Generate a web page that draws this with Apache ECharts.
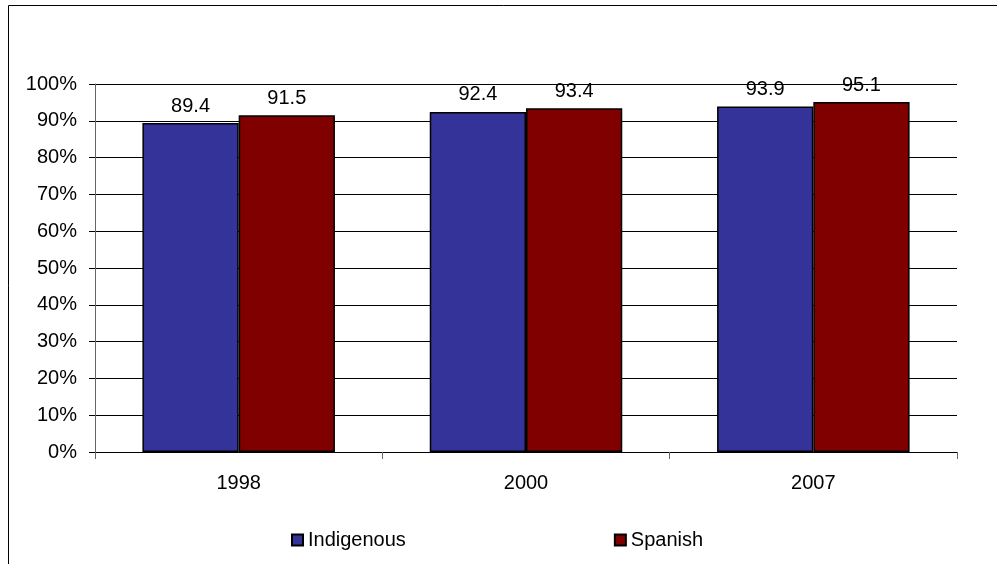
<!DOCTYPE html>
<html>
<head>
<meta charset="utf-8">
<script src="https://cdn.jsdelivr.net/npm/echarts@6/dist/echarts.min.js"></script>
<style>
  html, body { margin: 0; padding: 0; background: #fff; }
  #chart { width: 997px; height: 564px; }
</style>
</head>
<body>
<div id="chart"></div>
<script>
var years = ["1998", "2000", "2007"];
var indigenous = [89.4, 92.4, 93.9];
var spanish = [91.5, 93.4, 95.1];

var myChart = echarts.init(document.getElementById("chart"));
var font = "Liberation Sans, Arial, sans-serif";

var option = {
    animation: false,
    backgroundColor: "#fff",
    textStyle: { fontFamily: font },
    graphic: [{
        type: "rect",
        shape: { x: 8.5, y: 5.5, width: 1000, height: 600 },
        style: { fill: "none", stroke: "#000", lineWidth: 1 },
        silent: true
    }],
    grid: { left: 95, right: 40, top: 84, bottom: 112 },
    legend: {
        left: 286,
        top: 525,
        itemWidth: 11,
        itemHeight: 11,
        itemGap: 208,
        icon: "rect",
        textStyle: { fontSize: 20, color: "#000", fontFamily: font },
        data: ["Indigenous", "Spanish"]
    },
    xAxis: {
        type: "category",
        data: years,
        axisLine: { lineStyle: { color: "#000", width: 1 } },
        axisTick: { show: true, length: 7, lineStyle: { color: "#666" } },
        axisLabel: { fontSize: 20, color: "#000", margin: 21, fontFamily: font }
    },
    yAxis: {
        type: "value",
        min: 0,
        max: 100,
        interval: 10,
        axisLine: { show: true, lineStyle: { color: "#666", width: 1 } },
        axisTick: { show: true, length: 6, lineStyle: { color: "#000" } },
        axisLabel: { fontSize: 20, color: "#000", margin: 18, formatter: "{value}%", fontFamily: font },
        splitLine: { lineStyle: { color: "#000", width: 1 } }
    },
    series: [{
        name: "Indigenous",
        type: "bar",
        data: indigenous,
        barGap: "0%",
        barCategoryGap: "33%",
        itemStyle: { color: "#333399", borderColor: "#000", borderWidth: 1.5 },
        label: { show: true, position: "top", distance: 7, fontSize: 20, color: "#000", fontFamily: font }
    }, {
        name: "Spanish",
        type: "bar",
        data: spanish,
        barGap: "0%",
        barCategoryGap: "33%",
        itemStyle: { color: "#800000", borderColor: "#000", borderWidth: 1.5 },
        label: { show: true, position: "top", distance: 7, fontSize: 20, color: "#000", fontFamily: font }
    }]
};

myChart.setOption(option);
</script>
</body>
</html>
